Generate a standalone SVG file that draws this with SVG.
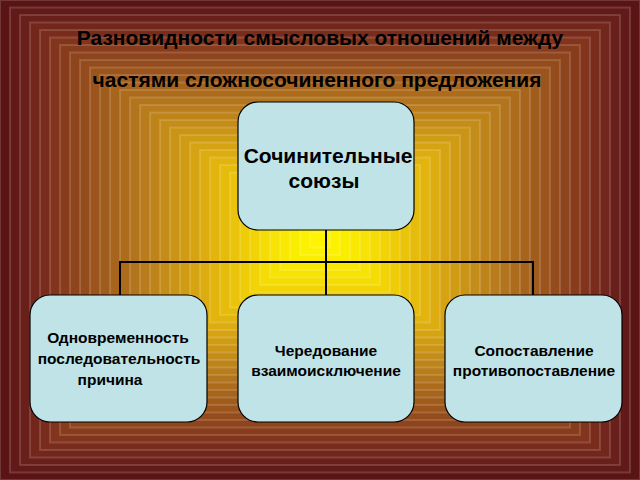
<svg xmlns="http://www.w3.org/2000/svg" width="640" height="480" viewBox="0 0 640 480">
<style>
.bg rect{stroke:#fff;stroke-opacity:0.15;stroke-width:2}
.box{fill:#bfe3e6;stroke:#000;stroke-width:1.2}
.t{font-family:"Liberation Sans",Arial,sans-serif;font-weight:bold;fill:#000;text-anchor:middle}
.conn{fill:none;stroke:#000;stroke-width:2}
</style>
<g class="bg">
<rect x="0" y="0" width="640" height="480" fill="#5a1414"/>
<rect x="10" y="7.5" width="620" height="465" fill="#621a18"/>
<rect x="20" y="15" width="600" height="450" fill="#6a201a"/>
<rect x="30" y="22.5" width="580" height="435" fill="#72261c"/>
<rect x="40" y="30" width="560" height="420" fill="#7a2c1c"/>
<rect x="50" y="37.5" width="540" height="405" fill="#82341c"/>
<rect x="60" y="45" width="520" height="390" fill="#883c1c"/>
<rect x="70" y="52.5" width="500" height="375" fill="#8e441c"/>
<rect x="80" y="60" width="480" height="360" fill="#944c1c"/>
<rect x="90" y="67.5" width="460" height="345" fill="#9a541c"/>
<rect x="100" y="75" width="440" height="330" fill="#a05c1c"/>
<rect x="110" y="82.5" width="420" height="315" fill="#a6641c"/>
<rect x="120" y="90" width="400" height="300" fill="#ac6c1c"/>
<rect x="130" y="97.5" width="380" height="285" fill="#b2741c"/>
<rect x="140" y="105" width="360" height="270" fill="#b87c1c"/>
<rect x="150" y="112.5" width="340" height="255" fill="#be841a"/>
<rect x="160" y="120" width="320" height="240" fill="#c48c18"/>
<rect x="170" y="127.5" width="300" height="225" fill="#ca9416"/>
<rect x="180" y="135" width="280" height="210" fill="#d09c14"/>
<rect x="190" y="142.5" width="260" height="195" fill="#d6a412"/>
<rect x="200" y="150" width="240" height="180" fill="#dcac10"/>
<rect x="210" y="157.5" width="220" height="165" fill="#e2b40e"/>
<rect x="220" y="165" width="200" height="150" fill="#e6bc0c"/>
<rect x="230" y="172.5" width="180" height="135" fill="#eac40a"/>
<rect x="240" y="180" width="160" height="120" fill="#eecc08"/>
<rect x="250" y="187.5" width="140" height="105" fill="#f2d406"/>
<rect x="260" y="195" width="120" height="90" fill="#f4dc04"/>
<rect x="270" y="202.5" width="100" height="75" fill="#f6e204"/>
<rect x="280" y="210" width="80" height="60" fill="#f8e802"/>
<rect x="290" y="217.5" width="60" height="45" fill="#faee00"/>
<rect x="300" y="225" width="40" height="30" fill="#fcf200"/>
<rect x="310" y="232.5" width="20" height="15" fill="#fff400"/>
</g>
<g id="title">
<text class="t" x="320" y="45" font-size="21">Разновидности смысловых отношений между</text>
<text class="t" x="317" y="87" font-size="21">частями сложносочиненного предложения</text>
</g>
<g id="connectors">
<path class="conn" d="M326 230V262M120 295V262H533V295M326 262V295"/>
</g>
<g id="top">
<rect class="box" x="238" y="102" width="176" height="128" rx="20"/>
<text class="t" x="328" y="163" font-size="21">Сочинительные</text>
<text class="t" x="324" y="188" font-size="21">союзы</text>
</g>
<g id="n1">
<rect class="box" x="30" y="295" width="177" height="127" rx="20"/>
<text class="t" x="118" y="343" font-size="15.5">Одновременность</text>
<text class="t" x="119" y="364" font-size="15.5">последовательность</text>
<text class="t" x="110" y="385" font-size="15.5">причина</text>
</g>
<g id="n2">
<rect class="box" x="238" y="295" width="176" height="127" rx="20"/>
<text class="t" x="326" y="356" font-size="15.5">Чередование</text>
<text class="t" x="326" y="376" font-size="15.5">взаимоисключение</text>
</g>
<g id="n3">
<rect class="box" x="445" y="295" width="177" height="127" rx="20"/>
<text class="t" x="534" y="356" font-size="15.5">Сопоставление</text>
<text class="t" x="534" y="376" font-size="15.5">противопоставление</text>
</g>
</svg>
